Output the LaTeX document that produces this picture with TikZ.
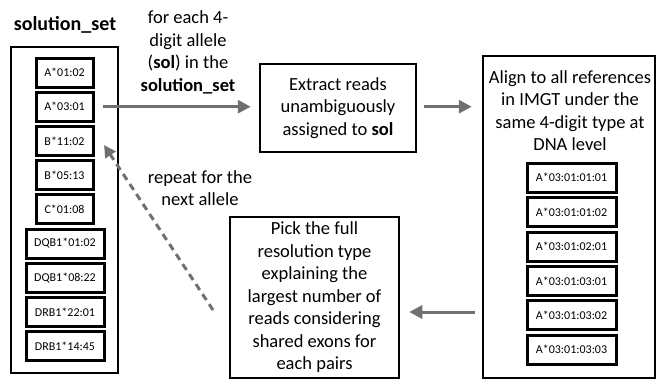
\documentclass[tikz,border=0pt]{standalone}
\usepackage{fontspec}
\setmainfont{Carlito}
\usetikzlibrary{arrows.meta}
\definecolor{arrowgray}{RGB}{112,112,112}
\tikzset{
  allele/.style={draw=black, line width=3pt, minimum height=29pt, inner sep=0pt,
    font=\fontsize{12}{14}\selectfont},
  frame/.style={draw=black, line width=2.5pt, inner sep=0pt},
  body/.style={align=center, inner sep=0pt, font=\fontsize{18.5}{22.5}\selectfont},
  arr/.style={draw=arrowgray, line width=3pt, -{Triangle[length=13pt,width=13pt]}},
  dasharr/.style={draw=arrowgray, line width=3pt, dash pattern=on 7pt off 5pt,
    -{Triangle[length=12pt,width=12pt]}}
}
\begin{document}
\begin{tikzpicture}[x=1pt,y=-1pt]
\useasboundingbox (0,0) rectangle (657,381);

% left column: the solution set
\node[font=\bfseries\fontsize{20}{24}\selectfont, inner sep=0pt] (title) at (65,25) {solution\_set};
\node[frame, minimum width=107pt, minimum height=326pt] (setbox) at (64.5,210) {};
\node[allele, minimum width=57pt] (s1) at (64.5,72.5) {A*01:02};
\node[allele, minimum width=57pt] (s2) at (64.5,106.7) {A*03:01};
\node[allele, minimum width=57pt] (s3) at (64.5,140.9) {B*11:02};
\node[allele, minimum width=57pt] (s4) at (64.5,175.1) {B*05:13};
\node[allele, minimum width=57pt] (s5) at (64.5,209.3) {C*01:08};
\node[allele, minimum width=78pt] (s6) at (65,243.5) {DQB1*01:02};
\node[allele, minimum width=78pt] (s7) at (65,277.7) {DQB1*08:22};
\node[allele, minimum width=78pt] (s8) at (65,311.9) {DRB1*22:01};
\node[allele, minimum width=78pt] (s9) at (65,346.1) {DRB1*14:45};

% loop label
\node[body] (forlbl) at (188,52.5) {for each 4-\\digit allele\\(\textbf{sol}) in the\\\textbf{solution\_set}};

% step 1
\node[frame, body, minimum width=156pt, minimum height=88pt] (extract) at (338,108)
  {Extract reads\\unambiguously\\assigned to \textbf{sol}};

% step 2
\node[frame, minimum width=172pt, minimum height=322pt] (refbox) at (569,217) {};
\node[body] (aligntxt) at (570,110.5) {Align to all references\\in IMGT under the\\same 4-digit type at\\DNA level};
\node[allele, minimum width=89pt] (r1) at (571.5,177.5) {A*03:01:01:01};
\node[allele, minimum width=89pt] (r2) at (571.5,212) {A*03:01:01:02};
\node[allele, minimum width=89pt] (r3) at (571.5,246.5) {A*03:01:02:01};
\node[allele, minimum width=89pt] (r4) at (571.5,281) {A*03:01:03:01};
\node[allele, minimum width=89pt] (r5) at (571.5,315) {A*03:01:03:02};
\node[allele, minimum width=89pt] (r6) at (571.5,349.5) {A*03:01:03:03};

% step 3
\node[frame, body, minimum width=169pt, minimum height=161pt] (pick) at (314.5,297.5)
  {Pick the full\\resolution type\\explaining the\\largest number of\\reads considering\\shared exons for\\each pairs};

\node[body] (repeatlbl) at (200,188) {repeat for the\\next allele};

% connectors
\coordinate (backy) at (0,312);
\coordinate (loopstart) at (213,310);
\coordinate (looptip) at (104,145);
\draw[arr] ([xshift=8pt]s2.east) -- ([xshift=-8pt]extract.west |- s2.east);
\draw[arr] ([xshift=7pt]extract.east |- s2.east) -- ([xshift=-10pt]refbox.west |- s2.east);
\draw[arr] ([xshift=-7pt]refbox.west |- backy) -- ([xshift=9pt]pick.east |- backy);
\draw[dasharr] (loopstart) -- (looptip);
\end{tikzpicture}
\end{document}
